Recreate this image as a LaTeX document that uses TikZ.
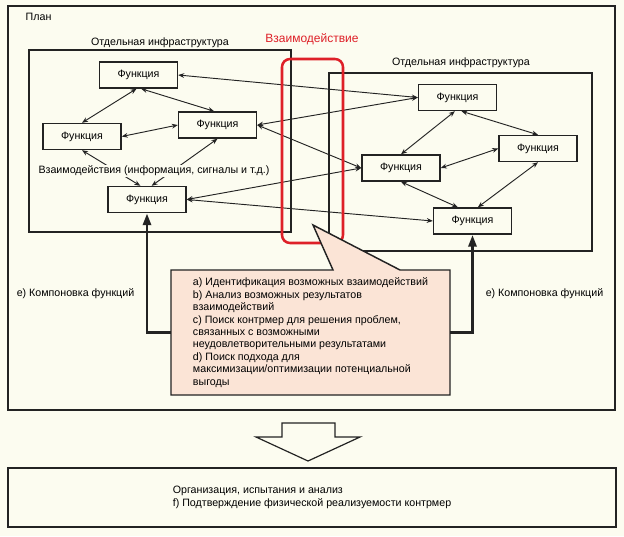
\documentclass[tikz,border=0pt]{standalone}
\usepackage{fontspec}
\setmainfont{Liberation Sans}
\usetikzlibrary{arrows.meta}
\definecolor{paper}{RGB}{252,252,240}
\definecolor{notepink}{RGB}{251,228,214}
\definecolor{planred}{RGB}{222,32,40}
\definecolor{ink}{RGB}{35,35,35}

\tikzset{
  frame/.style={draw=ink,line width=1.1pt},
  func/.style={frame,fill=paper,minimum width=58.5pt,minimum height=19.5pt,inner sep=0pt},
  link/.style={draw=ink,line width=0.7pt,{Stealth[length=4.5pt,width=3.6pt]}-{Stealth[length=4.5pt,width=3.6pt]}},
  feed/.style={draw=ink,line width=2.2pt,-{Triangle[length=9pt,width=6pt]}},
  redbox/.style={draw=planred,line width=1.9pt,rounded corners=6pt},
}

\begin{document}
\begin{tikzpicture}[x=0.75pt,y=-0.75pt,font=\fontsize{8}{9.3}\selectfont]
  \fill[paper] (0,0) rectangle (624,536);
  \useasboundingbox (0,0) rectangle (624,536);
  \draw[frame] (8,6) rectangle (615,410);
  \node[anchor=west] (plan) at (21,17) {План};
  \draw[frame] (29,50) rectangle (291,232);
  \draw[frame] (329,73) rectangle (592,251);
  \node (infraL) at (160,43) {Отдельная инфраструктура};
  \node (infraR) at (461,63) {Отдельная инфраструктура};
  \node[text=planred,font=\fontsize{9}{11}\selectfont] (inter) at (312,39) {Взаимодействие};
  % left functions
  \node[func] (L1) at (138.5,75) {Функция};
  \node[func] (L2) at (82,136.5) {Функция};
  \node[func] (L3) at (217.5,125) {Функция};
  \node[func] (L4) at (147,199.5) {Функция};
  % right functions
  \node[func] (R1) at (457.5,97.5) {Функция};
  \node[func] (R2) at (401,168) {Функция};
  \node[func] (R3) at (538,148.5) {Функция};
  \node[func] (R4) at (472.5,221) {Функция};
  % links inside
  \draw[link] ([xshift=-1.5pt]L1.south) -- (L2.north);
  \draw[link] ([xshift=2pt]L1.south) -- ([xshift=-2.5pt]L3.north);
  \draw[link] (L2.east) -- (L3.west);
  \draw[link] (L2.south) -- ([xshift=-5pt]L4.north);
  \draw[link] (L3.south) -- ([xshift=3.5pt]L4.north);
  \draw[link] ([xshift=-2pt]R1.south) -- (R2.north);
  \draw[link] ([xshift=3pt]R1.south) -- (R3.north);
  \draw[link] (R2.east) -- (R3.west);
  \draw[link] (R2.south) -- ([xshift=-11pt]R4.north);
  \draw[link] (R3.south) -- ([xshift=4pt]R4.north);
  % links across
  \draw[link] (L1.east) -- (R1.west);
  \draw[link] (L3.east) -- (R1.west);
  \draw[link] (L3.east) -- (R2.west);
  \draw[link] (L4.east) -- (R2.west);
  \draw[link] (L4.east) -- (R4.west);
  \node[fill=paper,inner sep=1pt] (signals) at (154,171) {Взаимодействия (информация, сигналы и т.д.)};
  \draw[redbox] (282,59) rectangle (343,243);
  % callout
  \draw[frame,fill=notepink] (171,270) -- (333,270) -- (313,225) -- (400,270) -- (450,270) -- (450,395) -- (171,395) -- cycle;
  \node[align=left,minimum width=209pt,minimum height=94pt] (steps) at (310.5,332.5) {a) Идентификация возможных взаимодействий\\
    b) Анализ возможных результатов\\
    взаимодействий\\
    c) Поиск контрмер для решения проблем,\\
    связанных с возможными\\
    неудовлетворительными результатами\\
    d) Поиск подхода для\\
    максимизации/оптимизации потенциальной\\
    выгоды};
  \draw[feed] (steps.west) -| (L4.south);
  \draw[feed] (steps.east) -| (R4.south);
  \node (packL) at (75.5,294) {e) Компоновка функций};
  \node (packR) at (544.5,294) {e) Компоновка функций};
  \draw[frame,line width=0.9pt] (282,423) -- (335,423) -- (335,437) -- (360,437) -- (308,461) -- (256,437) -- (282,437) -- cycle;
  \node[frame,minimum width=456pt,minimum height=44.25pt,align=left] (test) at (312,497.5) {Организация, испытания и анализ\\
    f) Подтверждение физической реализуемости контрмер};
\end{tikzpicture}
\end{document}
